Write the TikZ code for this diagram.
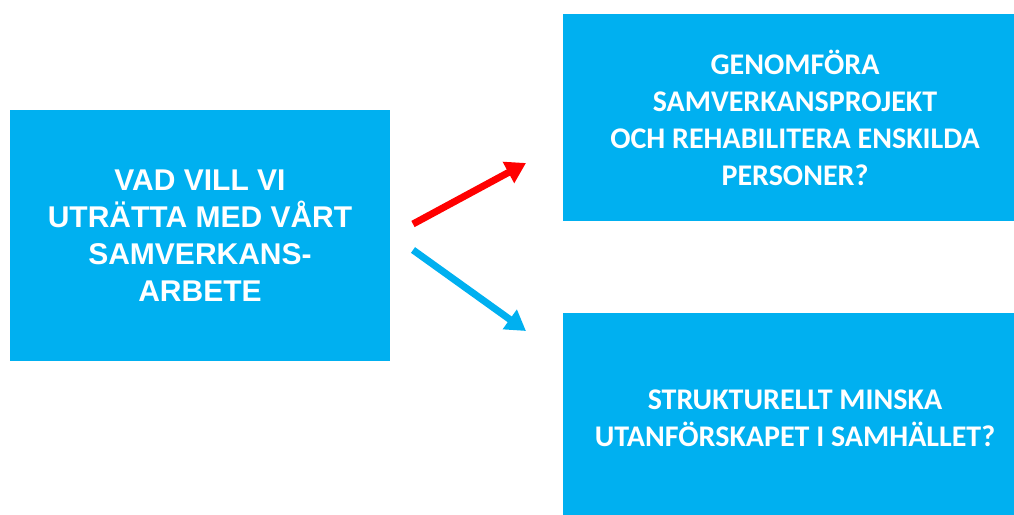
\documentclass[tikz,border=0pt]{standalone}
\usepackage{fontspec}
\setmainfont{Liberation Sans}
\newfontfamily\calibri{Carlito}
\usetikzlibrary{arrows.meta}
\definecolor{skyblue}{HTML}{00B0F0}
\definecolor{arrowred}{HTML}{FF0000}

\begin{document}
\begin{tikzpicture}[x=1pt, y=-1pt, >={Triangle[length=20pt, width=23pt]},
  bluebox/.style={fill=skyblue, text=white, inner sep=0pt, align=center},
  askfont/.style={font=\bfseries\fontsize{30}{37}\selectfont},
  goalfont/.style={font=\calibri\bfseries\fontsize{30}{37}\selectfont},
  arrowline/.style={->, line width=7pt}]
\clip (0,0) rectangle (1014,514);

% Question
\node[bluebox, askfont, minimum width=380pt, minimum height=251pt] (ask) at (200,235.5)
  {VAD VILL VI\\UTRÄTTA MED VÅRT\\SAMVERKANS-\\ARBETE};

% Goals
\node[bluebox, goalfont, minimum width=464pt, minimum height=207pt] (project) at (795,117.5)
  {GENOMFÖRA\\SAMVERKANSPROJEKT\\OCH REHABILITERA ENSKILDA\\PERSONER?};
\node[bluebox, goalfont, minimum width=464pt, minimum height=210pt] (society) at (795,418)
  {STRUKTURELLT MINSKA\\UTANFÖRSKAPET I SAMHÄLLET?};

% Arrows
\coordinate (redfrom) at (413,224);
\coordinate (redto) at (526,163);
\coordinate (bluefrom) at (413,250);
\coordinate (blueto) at (526,331);
\draw[arrowline, arrowred] (redfrom) -- (redto);
\draw[arrowline, skyblue] (bluefrom) -- (blueto);
\end{tikzpicture}
\end{document}
